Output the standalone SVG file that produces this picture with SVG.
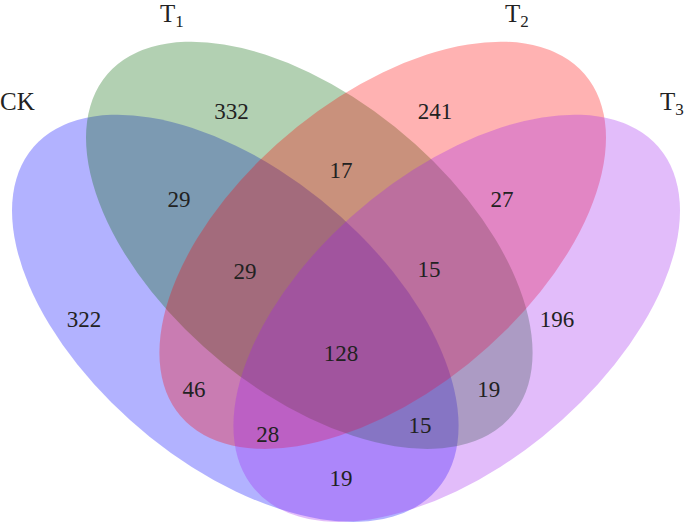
<svg xmlns="http://www.w3.org/2000/svg" width="685" height="523" viewBox="0 0 685 523">
<style>
.set { stroke: none; fill-opacity: 0.3; }
.lbl { font-family: "Liberation Serif", "Times New Roman", serif; font-size: 25px; fill: #222; }
.sub { font-size: 17px; }
.num { font-family: "Liberation Serif", "Times New Roman", serif; font-size: 23px; fill: #222; text-anchor: middle; }
</style>
<rect width="685" height="523" fill="#fff"/>
<g id="set-CK">
  <circle class="set" r="1" fill="#0000FF" transform="matrix(223.3,107.5,0,172.9,235.3,318.3)"/>
  <text class="lbl" x="0" y="110">CK</text>
</g>
<g id="set-T1">
  <circle class="set" r="1" fill="#006400" transform="matrix(223.3,107.5,0,172.9,309.3,245.3)"/>
  <text class="lbl" x="160" y="22">T<tspan class="sub" dy="5">1</tspan></text>
</g>
<g id="set-T2">
  <circle class="set" r="1" fill="#FF0000" transform="matrix(223.3,-107.5,0,172.9,382.7,245.3)"/>
  <text class="lbl" x="505" y="22">T<tspan class="sub" dy="5">2</tspan></text>
</g>
<g id="set-T3">
  <circle class="set" r="1" fill="#A020F0" transform="matrix(223.3,-107.5,0,172.9,456.7,318.3)"/>
  <text class="lbl" x="660" y="110">T<tspan class="sub" dy="5">3</tspan></text>
</g>
<g id="counts">
  <text class="num" x="231.5" y="118.5">332</text>
  <text class="num" x="435" y="118.5">241</text>
  <text class="num" x="341" y="178">17</text>
  <text class="num" x="179" y="206.5">29</text>
  <text class="num" x="502" y="206.5">27</text>
  <text class="num" x="245" y="279">29</text>
  <text class="num" x="429" y="277">15</text>
  <text class="num" x="84" y="327">322</text>
  <text class="num" x="557" y="327">196</text>
  <text class="num" x="341" y="361">128</text>
  <text class="num" x="194" y="397.3">46</text>
  <text class="num" x="488.7" y="397.3">19</text>
  <text class="num" x="267.7" y="441.7">28</text>
  <text class="num" x="420" y="433.3">15</text>
  <text class="num" x="341" y="486">19</text>
</g>
</svg>
